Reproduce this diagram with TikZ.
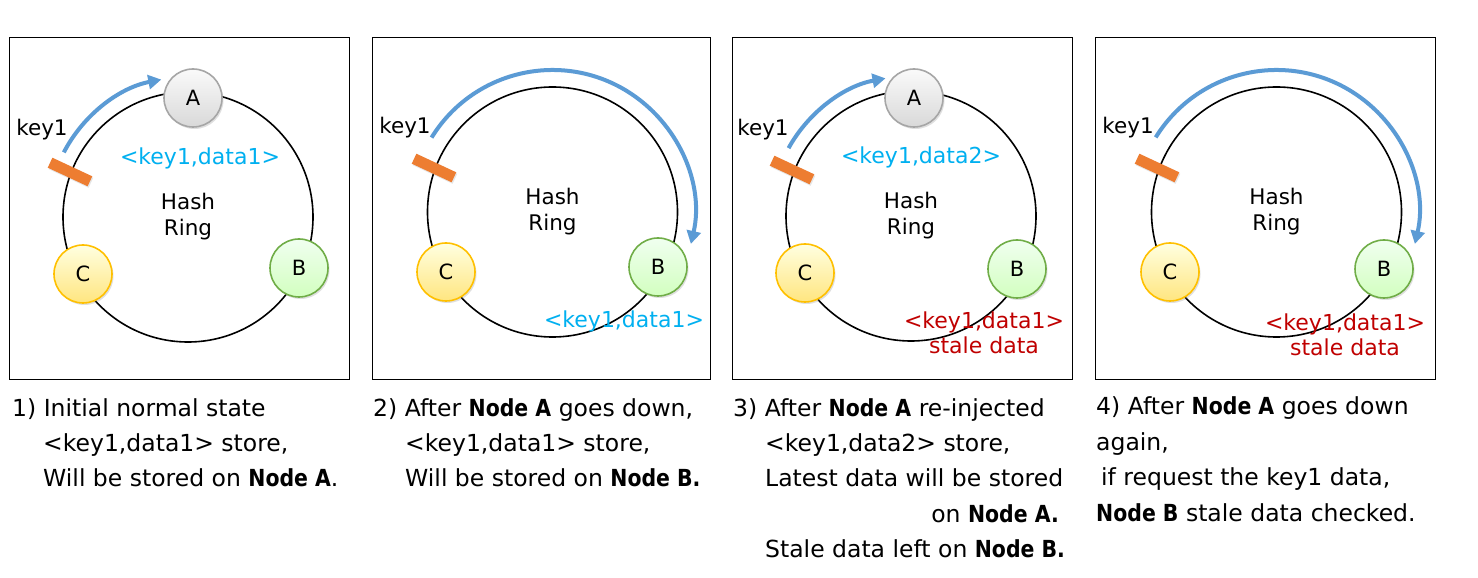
\documentclass[tikz,border=0pt]{standalone}
\usepackage{fontspec}
\setmainfont{DejaVu Sans}[BoldFeatures={FakeStretch=0.87}]
\usetikzlibrary{arrows.meta,shadows}
\definecolor{arrblue}{HTML}{5B9BD5}
\definecolor{lblblue}{HTML}{00B0F0}
\definecolor{stalered}{HTML}{C00000}
\definecolor{keyorange}{HTML}{ED7D31}
\definecolor{agray}{HTML}{A6A6A6}
\definecolor{bgreen}{HTML}{70AD47}
\definecolor{cyellow}{HTML}{FFC000}
\tikzset{
  panel/.style={draw=black, line width=0.9pt, inner sep=0pt},
  ring/.style={draw=black, line width=1.6pt},
  hnode/.style={circle, inner sep=0pt, minimum size=58pt, line width=1.6pt,
    font=\fontsize{21}{21}\selectfont,
    drop shadow={opacity=0.25, shadow xshift=1.5pt, shadow yshift=-2pt}},
  nodeA/.style={hnode, draw=agray, top color=white!96!gray, bottom color=gray!30},
  nodeB/.style={hnode, draw=bgreen, top color=green!6!white, bottom color=green!60!lime!25!white},
  nodeC/.style={hnode, draw=cyellow, top color=yellow!12!white, bottom color=yellow!60!orange!50!white},
  keybar/.style={rectangle, fill=keyorange, inner sep=0pt, minimum width=44pt, minimum height=11pt, rotate=-25,
    drop shadow={opacity=0.2, shadow xshift=1pt, shadow yshift=-1.5pt}},
  keytext/.style={font=\fontsize{21.5}{21.5}\selectfont, inner sep=0pt},
  ringtext/.style={font=\fontsize{21.5}{26}\selectfont, align=center, inner sep=0pt},
  bluelbl/.style={font=\fontsize{22}{22}\selectfont, text=lblblue, inner sep=0pt},
  redlbl/.style={font=\fontsize{22}{25}\selectfont, text=stalered, align=center, inner sep=0pt},
  movearrow/.style={draw=arrblue, line width=4pt, -{Triangle[length=13pt,width=14pt]}},
  captxt/.style={font=\fontsize{23.5}{35}\selectfont, inner sep=0pt, anchor=base west},
}
\begin{document}
\begin{tikzpicture}[x=1pt,y=1pt]
\fill[white] (0,0) rectangle (1478,578);
\useasboundingbox (0,0) rectangle (1478,578);

% ---------------- Panel 1 ----------------
\node[panel, minimum width=340pt, minimum height=342pt] (f1) at (179,370) {};
\coordinate (c1) at (188,361);
\draw[ring] (c1) circle[radius=125pt];
\node[ringtext] (h1) at (c1) {Hash\\Ring};
\coordinate (s1) at ([shift={(152.5:140pt)}]c1);
\draw[movearrow] (s1) arc[start angle=152.5, end angle=101, radius=140pt] coordinate (e1);
\node[keybar] (k1) at (70,406) {};
\node[keytext] (kt1) at (42,448) {key1};
\node[nodeA] (a1) at (193,480) {A};
\node[nodeB] (b1) at (299,310) {B};
\node[nodeC] (cc1) at (83,304) {C};
\node[bluelbl] (l1) at (200,420) {<key1,data1>};

% ---------------- Panel 2 ----------------
\node[panel, minimum width=338pt, minimum height=342pt] (f2) at (541,370) {};
\coordinate (c2) at (552.5,366);
\draw[ring] (c2) circle[radius=125pt];
\node[ringtext] (h2) at (c2) {Hash\\Ring};
\coordinate (s2) at ([shift={(148.4:142pt)}]c2);
\draw[movearrow] (s2) arc[start angle=148.4, end angle=-13, radius=142pt] coordinate (e2);
\node[keybar] (k2) at (434,410) {};
\node[keytext] (kt2) at (405,450) {key1};
\node[nodeB] (b2) at (658,311) {B};
\node[nodeC] (cc2) at (446,306) {C};
\node[bluelbl] (l2) at (624,257) {<key1,data1>};

% ---------------- Panel 3 ----------------
\node[panel, minimum width=340pt, minimum height=342pt] (f3) at (902,370) {};
\coordinate (c3) at (911,362);
\draw[ring] (c3) circle[radius=125pt];
\node[ringtext] (h3) at (c3) {Hash\\Ring};
\coordinate (s3) at ([shift={(151:140pt)}]c3);
\draw[movearrow] (s3) arc[start angle=151, end angle=100.5, radius=140pt] coordinate (e3);
\node[keybar] (k3) at (792,408) {};
\node[keytext] (kt3) at (763,448) {key1};
\node[nodeA] (a3) at (914,480) {A};
\node[nodeB] (b3) at (1017,309) {B};
\node[nodeC] (cc3) at (805,305) {C};
\node[bluelbl] (l3) at (921,421) {<key1,data2>};
\node[redlbl] (r3) at (984,245.5) {<key1,data1>\\stale data};

% ---------------- Panel 4 ----------------
\node[panel, minimum width=340pt, minimum height=342pt] (f4) at (1265,370) {};
\coordinate (c4) at (1276.5,366);
\draw[ring] (c4) circle[radius=125pt];
\node[ringtext] (h4) at (c4) {Hash\\Ring};
\coordinate (s4) at ([shift={(148.3:142pt)}]c4);
\draw[movearrow] (s4) arc[start angle=148.3, end angle=-13, radius=142pt] coordinate (e4);
\node[keybar] (k4) at (1157,410) {};
\node[keytext] (kt4) at (1128,450) {key1};
\node[nodeB] (b4) at (1384,309) {B};
\node[nodeC] (cc4) at (1170,306) {C};
\node[redlbl] (r4) at (1345,243) {<key1,data1>\\stale data};

% ---------------- Captions ----------------
\node[captxt] (t1a) at (12,161.5) {1) Initial normal state};
\node[captxt] (t1b) at (43,126.5) {<key1,data1> store,};
\node[captxt] (t1c) at (43,91.5) {Will be stored on \textbf{Node A}.};

\node[captxt] (t2a) at (373,161.5) {2) After \textbf{Node A} goes down,};
\node[captxt] (t2b) at (405,126.5) {<key1,data1> store,};
\node[captxt] (t2c) at (405,91.5) {Will be stored on \textbf{Node B.}};

\node[captxt] (t3a) at (733,161.5) {3) After \textbf{Node A} re-injected};
\node[captxt] (t3b) at (765,126.5) {<key1,data2> store,};
\node[captxt] (t3c) at (765,91.5) {Latest data will be stored};
\node[captxt, anchor=base east] (t3d) at (1059,55.5) {on \textbf{Node A.}};
\node[captxt] (t3e) at (765,20.5) {Stale data left on \textbf{Node B.}};

\node[captxt] (t4a) at (1096,163.5) {4) After \textbf{Node A} goes down};
\node[captxt] (t4b) at (1096,127.5) {again,};
\node[captxt] (t4c) at (1101,92.5) {if request the key1 data,};
\node[captxt] (t4d) at (1096,56.5) {\textbf{Node B} stale data checked.};
\end{tikzpicture}
\end{document}
